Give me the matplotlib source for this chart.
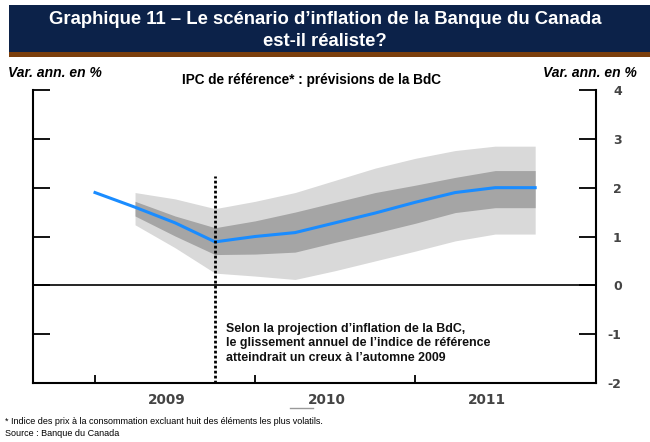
import matplotlib
matplotlib.use("Agg")
import matplotlib.pyplot as plt
from matplotlib.patches import Rectangle
from matplotlib.lines import Line2D

plt.rcParams['font.family'] = ['Liberation Sans', 'DejaVu Sans']

# quarterly dates (decimal years)
hist_x = [2009.0, 2009.25]
hist_y = [1.9, 1.6]

proj_x = [2009.25, 2009.5, 2009.75, 2010.0, 2010.25, 2010.5, 2010.75,
          2011.0, 2011.25, 2011.5, 2011.75]
proj_mid = [1.6, 1.28, 0.89, 1.0, 1.08, 1.28, 1.48, 1.7, 1.9, 2.0, 2.0]
inner_hi = [1.72, 1.42, 1.18, 1.32, 1.5, 1.7, 1.9, 2.05, 2.21, 2.35, 2.35]
inner_lo = [1.42, 1.01, 0.63, 0.64, 0.68, 0.88, 1.07, 1.27, 1.49, 1.59, 1.59]
outer_hi = [1.9, 1.77, 1.57, 1.72, 1.9, 2.15, 2.4, 2.6, 2.76, 2.85, 2.85]
outer_lo = [1.24, 0.77, 0.25, 0.19, 0.12, 0.3, 0.5, 0.7, 0.91, 1.05, 1.05]

years = [2009, 2010, 2011]
yticks = [-2, -1, 0, 1, 2, 3, 4]
trough = 2009.75

fig = plt.figure(figsize=(6.5, 4.42), dpi=100)
fig.patch.set_facecolor('white')

# header band
fig.patches.append(Rectangle((9 / 650, 1 - 52 / 442), 1 - 9 / 650, 47 / 442,
                             transform=fig.transFigure, facecolor='#0c2249',
                             edgecolor='none'))
fig.patches.append(Rectangle((9 / 650, 1 - 57 / 442), 1 - 9 / 650, 5 / 442,
                             transform=fig.transFigure, facecolor='#7b3f0c',
                             edgecolor='none'))
fig.text(0.500, 1 - 20 / 442, "Graphique 11 – Le scénario d’inflation de la Banque du Canada",
         color='white', fontsize=13.3, fontweight='bold', ha='center', va='center')
fig.text(0.500, 1 - 41 / 442, "est-il réaliste?",
         color='white', fontsize=13.3, fontweight='bold', ha='center', va='center')

ax = fig.add_axes([33 / 650, 1 - 383 / 442, (596 - 33) / 650, (383 - 90) / 442])

ax.fill_between(proj_x, outer_lo, outer_hi, color='#d9d9d9', lw=0)
ax.fill_between(proj_x, inner_lo, inner_hi, color='#a5a5a5', lw=0)
ax.plot(hist_x + proj_x[1:], hist_y + proj_mid[1:], color='#1a8cff', lw=2.2)
ax.axhline(0, color='black', lw=1.2)
ax.plot([trough, trough], [-2, 2.23], color='black', lw=2, ls=(0, (1, 0.8)))

ax.set_xlim(2008.6125, 2012.13)
ax.set_ylim(-2, 4)

for s in ['left', 'right', 'bottom']:
    ax.spines[s].set_linewidth(1.5)
ax.spines['top'].set_visible(False)

ax.set_yticks(yticks)
ax.set_yticklabels([str(v) for v in yticks])
ax.tick_params(axis='y', left=True, right=True, labelleft=False, labelright=True,
               direction='in', length=12, width=1.3, pad=18.5,
               labelsize=9, labelcolor='#444444')
for lab in ax.get_yticklabels():
    lab.set_horizontalalignment('right')
    lab.set_family('DejaVu Sans')
    lab.set_fontweight('bold')

ax.set_xticks(years)
ax.set_xticklabels([])
ax.set_xticks([y + 0.45 for y in years], minor=True)
ax.set_xticklabels([str(y) for y in years], minor=True)
ax.tick_params(axis='x', which='major', direction='in', length=6, width=1.3)
ax.tick_params(axis='x', which='minor', length=0, pad=7, labelsize=9.8,
               labelcolor='#444444')
for lab in ax.get_xticklabels(minor=True):
    lab.set_family('DejaVu Sans')
    lab.set_fontweight('bold')

ax.text(trough + 0.07, -1.19,
        "Selon la projection d’inflation de la BdC,\n"
        "le glissement annuel de l’indice de référence\n"
        "atteindrait un creux à l’automne 2009",
        fontsize=8.9, fontweight='bold', color='#111111', ha='left', va='center',
        linespacing=1.3)

fig.text(8 / 650, 1 - 73 / 442, "Var. ann. en %", fontsize=10, fontweight='bold',
         fontstyle='italic', ha='left', va='center')
fig.text(637 / 650, 1 - 73 / 442, "Var. ann. en %", fontsize=10, fontweight='bold',
         fontstyle='italic', ha='right', va='center')
fig.text(311 / 650, 1 - 80 / 442, "IPC de référence* : prévisions de la BdC",
         fontsize=9.8, fontweight='bold', ha='center', va='center')

fig.lines.append(Line2D([290 / 650, 313 / 650], [1 - 408 / 442, 1 - 408 / 442],
                        transform=fig.transFigure, color='#999999', lw=1))

fig.text(5 / 650, 1 - 421 / 442,
         "* Indice des prix à la consommation excluant huit des éléments les plus volatils.",
         fontsize=6.5, ha='left', va='center')
fig.text(5 / 650, 1 - 433 / 442, "Source : Banque du Canada",
         fontsize=6.5, ha='left', va='center')

fig.savefig('out.png', dpi=100)
